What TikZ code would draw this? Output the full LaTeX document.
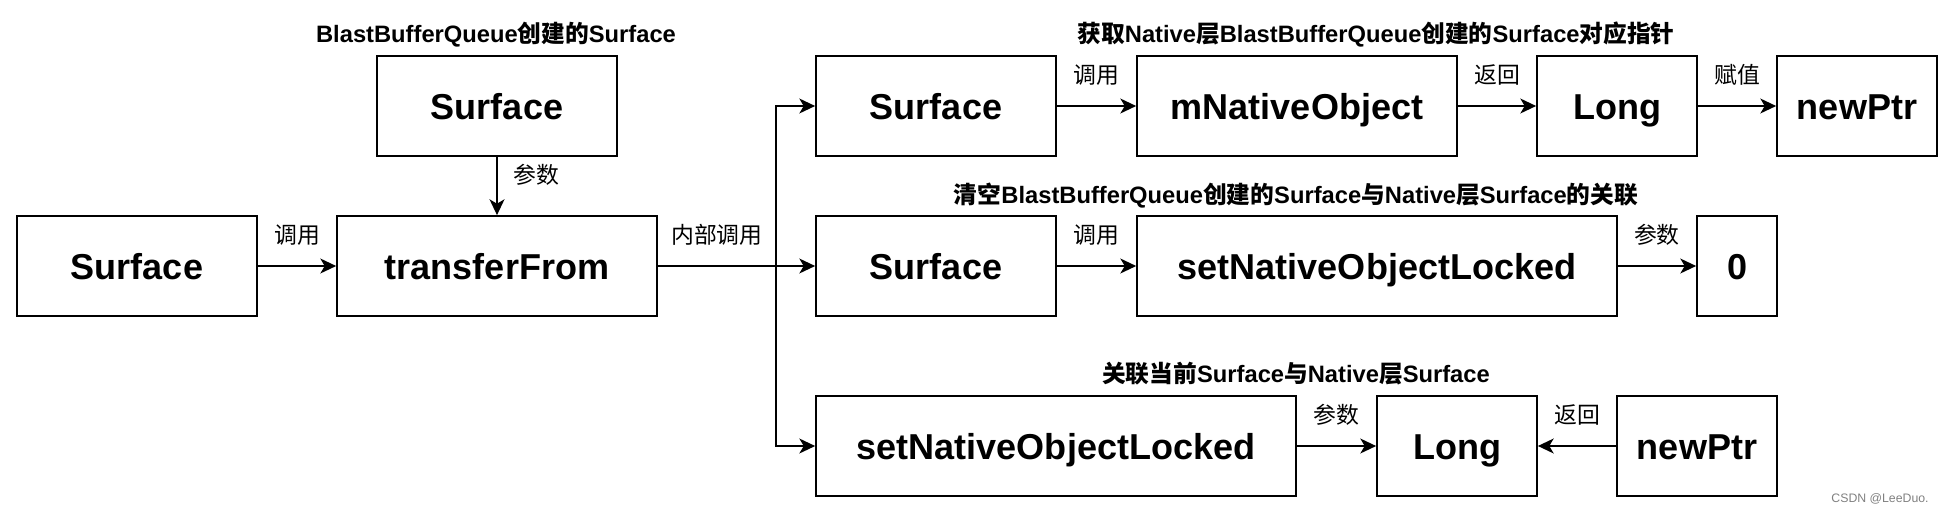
\documentclass[tikz,border=0pt]{standalone}
\usepackage{fontspec}
\setmainfont{Liberation Sans}
\newfontfamily\cjk{Noto Sans CJK SC}
\usetikzlibrary{positioning,arrows.meta}

\begin{document}
\begin{tikzpicture}[x=0.02cm,y=-0.02cm,
  box/.style={draw,line width=1pt,minimum height=2cm,inner sep=0pt,text height=15.5pt,text depth=0pt,font=\fontsize{20.5}{24}\selectfont\bfseries},
  w1/.style={box,minimum width=1.6cm}, w2/.style={box,minimum width=3.2cm}, w3/.style={box,minimum width=4.8cm},
  w4/.style={box,minimum width=6.4cm}, w6/.style={box,minimum width=9.6cm},
  ttl/.style={font=\fontsize{13.5}{16}\selectfont\bfseries,inner sep=0pt},
  lbl/.style={font=\fontsize{13}{16}\selectfont\cjk,inner sep=0pt},
  ar/.style={-{Stealth[length=9pt,width=8.5pt,inset=2.5pt]},line width=1pt}]
\useasboundingbox (0,0) rectangle (1954,514);
% caller and transferFrom
\node[w3] (s0) at (137,266) {Surface};
\node[w4] (tf) at (497,266) {transferFrom};
\node[w3] (sb) at (497,106) {Surface};
\node[ttl] (t0) at (496,35) {BlastBufferQueue{\cjk 创建的}Surface};
\draw[ar] (s0) -- node[lbl,above=11pt]{调用} (tf);
\draw[ar] (sb) -- node[lbl,pos=0.3,right=9pt]{参数} (tf);
% row 1: read pointer
\node[w3] (s1) at (936,106) {Surface};
\node[w4] (mno) at (1297,106) {mNativeObject};
\node[w2] (lg1) at (1617,106) {Long};
\node[w2] (np1) at (1857,106) {newPtr};
\node[ttl] (t1) at (1376,35) {{\cjk 获取}Native{\cjk 层}BlastBufferQueue{\cjk 创建的}Surface{\cjk 对应指针}};
\draw[ar] (s1) -- node[lbl,above=11pt]{调用} (mno);
\draw[ar] (mno) -- node[lbl,above=11pt]{返回} (lg1);
\draw[ar] (lg1) -- node[lbl,above=11pt]{赋值} (np1);
% row 2: clear
\node[w3] (s2) at (936,266) {Surface};
\node[w6] (snl2) at (1377,266) {setNativeObjectLocked};
\node[w1] (zero) at (1737,266) {0};
\node[ttl] (t2) at (1296,196) {{\cjk 清空}BlastBufferQueue{\cjk 创建的}Surface{\cjk 与}Native{\cjk 层}Surface{\cjk 的关联}};
\draw[ar] (s2) -- node[lbl,above=11pt]{调用} (snl2);
\draw[ar] (snl2) -- node[lbl,above=11pt]{参数} (zero);
% row 3: attach
\node[w6] (snl3) at (1056,446) {setNativeObjectLocked};
\node[w2] (lg3) at (1457,446) {Long};
\node[w2] (np3) at (1697,446) {newPtr};
\node[ttl] (t3) at (1296,374) {{\cjk 关联当前}Surface{\cjk 与}Native{\cjk 层}Surface};
\draw[ar] (snl3) -- node[lbl,above=11pt]{参数} (lg3);
\draw[ar] (np3) -- node[lbl,above=11pt]{返回} (lg3);
% branch
\coordinate (split) at (776,266);
\draw[ar] (tf) -- node[lbl,above=11pt]{内部调用} (split) -- (s2);
\draw[ar] (split) |- (s1);
\draw[ar] (split) |- (snl3);
\node[font=\fontsize{7}{8}\selectfont,text=gray,anchor=east,inner sep=0pt] (wm) at (1929,499) {CSDN @LeeDuo.};
\end{tikzpicture}
\end{document}
